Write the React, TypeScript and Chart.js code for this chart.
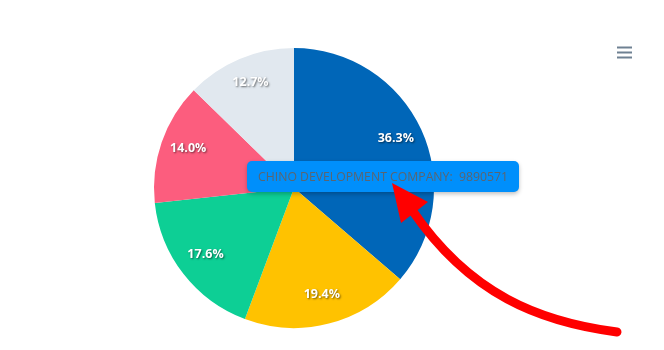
import React, { useEffect, useRef } from "react";
import { Chart, registerables } from "chart.js";

Chart.register(...registerables);

const categories = [
  "CHINO DEVELOPMENT COMPANY",
  "COMPANY B",
  "COMPANY C",
  "COMPANY D",
  "COMPANY E",
];
const seriesValues = [9890571, 5285870, 4795428, 3814545, 3460338];
const sliceColors = ["#0066B8", "#FFC200", "#0DCF95", "#FC5D7E", "#E1E8EF"];
const activeIndex = 0;

const overlayPlugin = {
  id: "overlay",
  afterDatasetsDraw(chart: any) {
    const ctx = chart.ctx as CanvasRenderingContext2D;
    const meta = chart.getDatasetMeta(0);
    const data = chart.data.datasets[0].data as number[];
    const total = data.reduce((a, b) => a + b, 0);
    meta.data.forEach((arc: any, i: number) => {
      const p = arc.getProps(["x", "y", "startAngle", "endAngle", "outerRadius"], true);
      const mid = (p.startAngle + p.endAngle) / 2;
      const r = p.outerRadius * 0.8;
      const x = p.x + Math.cos(mid) * r;
      const y = p.y + Math.sin(mid) * r - 2.5;
      const pct = ((data[i] / total) * 100).toFixed(1) + "%";
      ctx.save();
      ctx.font = "bold 12.5px 'Open Sans', sans-serif";
      ctx.textAlign = "center";
      ctx.textBaseline = "middle";
      ctx.shadowColor = "rgba(0,0,0,0.55)";
      ctx.shadowBlur = 2;
      ctx.shadowOffsetX = 1;
      ctx.shadowOffsetY = 1;
      ctx.fillStyle = "#ffffff";
      ctx.fillText(pct, x, y);
      ctx.restore();
    });
  },
  afterDraw(chart: any) {
    const ctx = chart.ctx as CanvasRenderingContext2D;
    const meta = chart.getDatasetMeta(0);
    const arc = meta.data[activeIndex];
    const cx = arc.x;
    const cy = arc.y;
    const data = chart.data.datasets[0].data as number[];
    const label = chart.data.labels[activeIndex];

    // tooltip
    const text = `${label}:  ${data[activeIndex]}`;
    ctx.save();
    ctx.font = "13px 'Open Sans', sans-serif";
    const w13 = ctx.measureText(text).width;
    const fs = Math.min(13, (13 * 250) / w13);
    ctx.font = `${fs.toFixed(2)}px 'Open Sans', sans-serif`;
    const bx = cx - 47;
    const by = cy - 27;
    const bw = 272;
    const bh = 31;
    ctx.shadowColor = "rgba(0,0,0,0.25)";
    ctx.shadowBlur = 4;
    ctx.shadowOffsetY = 2;
    ctx.fillStyle = "#008FFB";
    ctx.beginPath();
    (ctx as any).roundRect(bx, by, bw, bh, 5);
    ctx.fill();
    ctx.shadowColor = "transparent";
    ctx.fillStyle = "#5b6570";
    ctx.textAlign = "left";
    ctx.textBaseline = "middle";
    const tw = ctx.measureText(text).width;
    ctx.fillText(text, bx + (bw - tw) / 2, by + bh / 2 + 1);
    ctx.restore();

    // red arrow annotation
    ctx.save();
    ctx.strokeStyle = "#FF0000";
    ctx.fillStyle = "#FF0000";
    ctx.lineWidth = 9;
    ctx.lineCap = "round";
    ctx.beginPath();
    ctx.moveTo(617, 332);
    ctx.bezierCurveTo(540, 322, 470, 295, 412, 210);
    ctx.stroke();
    ctx.beginPath();
    ctx.moveTo(392, 183);
    ctx.lineTo(428, 202);
    ctx.lineTo(401, 223);
    ctx.closePath();
    ctx.fill();
    ctx.restore();

    // menu icon
    ctx.save();
    ctx.strokeStyle = "#6E8192";
    ctx.lineWidth = 2;
    [47.5, 52.5, 57.5].forEach((y) => {
      ctx.beginPath();
      ctx.moveTo(617, y);
      ctx.lineTo(632, y);
      ctx.stroke();
    });
    ctx.restore();
  },
};

export default function App() {
  const canvasRef = useRef<HTMLCanvasElement | null>(null);

  useEffect(() => {
    if (!canvasRef.current) return;
    const chart = new Chart(canvasRef.current, {
      type: "pie",
      data: {
        labels: categories,
        datasets: [
          {
            data: seriesValues,
            backgroundColor: sliceColors,
            borderWidth: 0,
          },
        ],
      },
      options: {
        animation: false,
        responsive: false,
        maintainAspectRatio: false,
        layout: { padding: { left: 154, right: 230, top: 48, bottom: 22 } },
        plugins: {
          legend: { display: false },
          tooltip: { enabled: false },
        },
        events: [],
      },
      plugins: [overlayPlugin],
    });
    return () => chart.destroy();
  }, []);

  return (
    <div style={{ position: "absolute", left: 0, top: 0, width: 664, height: 350, background: "#fff" }}>
      <canvas ref={canvasRef} width={664} height={350} style={{ width: 664, height: 350 }} />
    </div>
  );
}
